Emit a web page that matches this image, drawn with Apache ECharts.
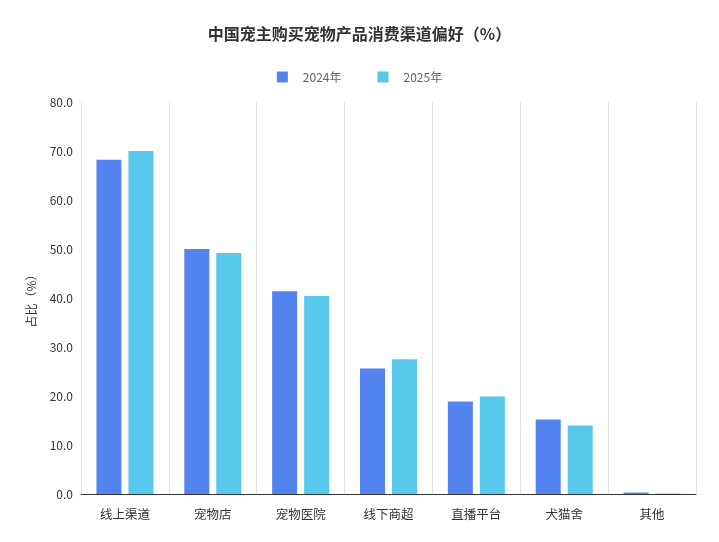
<!DOCTYPE html>
<html>
<head>
<meta charset="utf-8">
<script src="https://cdn.jsdelivr.net/npm/echarts@6/dist/echarts.min.js"></script>
<style>
  html, body { margin: 0; padding: 0; background: #fff; }
  #main { width: 719px; height: 542px; }
</style>
</head>
<body>
<div id="main"></div>
<script>
var categories = ['线上渠道', '宠物店', '宠物医院', '线下商超', '直播平台', '犬猫舍', '其他'];
var years = ['2024年', '2025年'];
var values2024 = [68.2, 50.0, 41.4, 25.6, 18.9, 15.2, 0.3];
var values2025 = [70.0, 49.2, 40.4, 27.5, 19.9, 14.0, 0.1];
var yTicks = { min: 0, max: 80, interval: 10 };

var myChart = echarts.init(document.getElementById('main'));

var font = '"Noto Sans CJK SC", "Noto Sans", sans-serif';

option = {
    textStyle: { fontFamily: font },
    title: {
        text: '中国宠主购买宠物产品消费渠道偏好（%）',
        left: 'center',
        top: 21,
        textStyle: { fontSize: 16, fontWeight: 'bold', color: '#333', fontFamily: font }
    },
    legend: {
        top: 66,
        left: 'center',
        itemWidth: 11,
        itemHeight: 11,
        itemGap: 36,
        icon: 'rect',
        textStyle: { fontSize: 12, color: '#666', padding: [0, 0, 0, 10] },
        data: years
    },
    grid: {
        left: 81,
        right: 23,
        top: 102,
        bottom: 48
    },
    xAxis: {
        type: 'category',
        data: categories,
        axisTick: { show: false },
        axisLine: { lineStyle: { color: '#333' } },
        axisLabel: { color: '#333', fontSize: 12.5, margin: 14 },
        splitLine: { show: true, lineStyle: { color: '#e3e3e3' } }
    },
    yAxis: {
        type: 'value',
        min: yTicks.min,
        max: yTicks.max,
        interval: yTicks.interval,
        name: '占比（%）',
        nameLocation: 'middle',
        nameGap: 44,
        nameTextStyle: { color: '#333', fontSize: 12 },
        axisLabel: {
            color: '#333',
            fontSize: 12,
            formatter: function (v) { return v.toFixed(1); }
        },
        axisLine: { show: false },
        axisTick: { show: false },
        splitLine: { show: false }
    },
    series: [{
        name: years[0],
        type: 'bar',
        data: values2024,
        barWidth: 25,
        barGap: '28%',
        itemStyle: { color: '#5383ee' }
    }, {
        name: years[1],
        type: 'bar',
        data: values2025,
        barWidth: 25,
        itemStyle: { color: '#56c8ec' }
    }]
};

myChart.setOption(option);
</script>
</body>
</html>
